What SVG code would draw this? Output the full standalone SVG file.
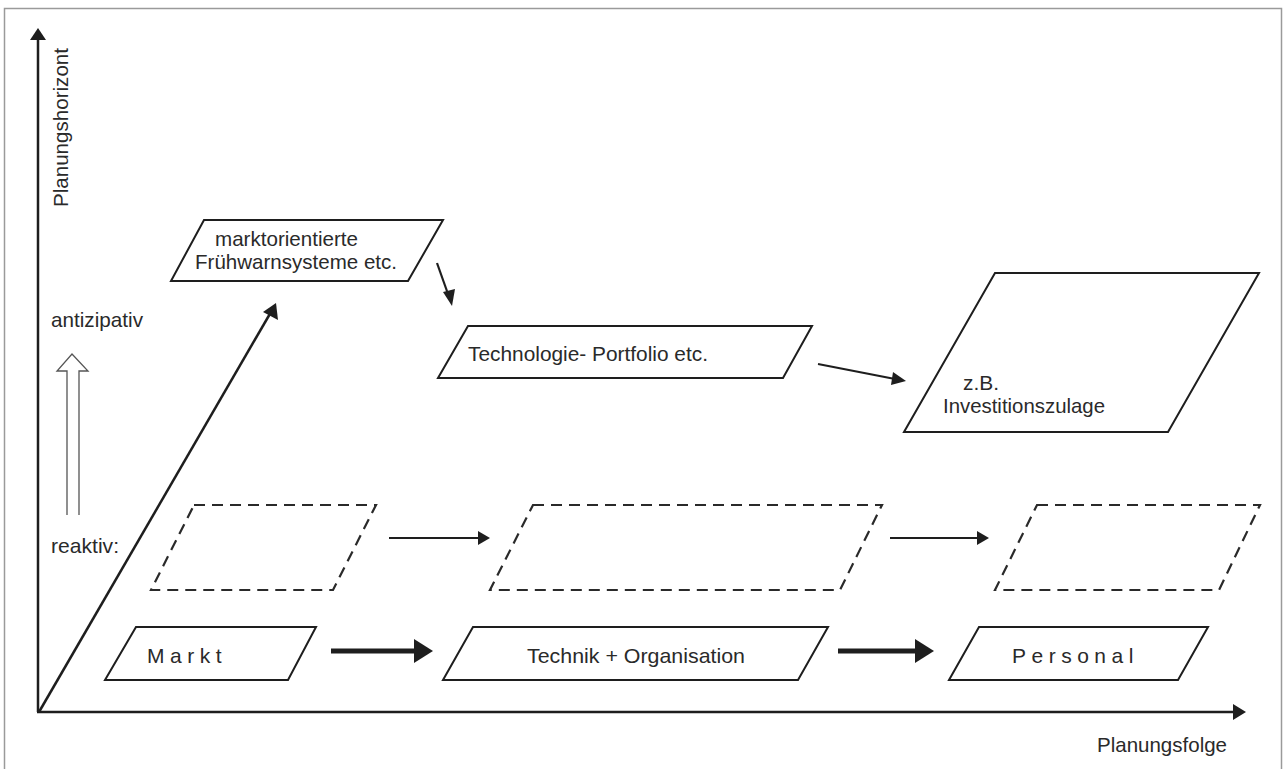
<svg xmlns="http://www.w3.org/2000/svg" width="1284" height="769" viewBox="0 0 1284 769">
<style>
  .frame{fill:none;stroke:#9a9a9a;stroke-width:1.5}
  .axis{fill:none;stroke:#1e1e1e;stroke-width:2.5}
  .node{fill:#fff;stroke:#1e1e1e;stroke-width:2}
  .dash{fill:none;stroke:#2a2a2a;stroke-width:2.2;stroke-dasharray:11 7}
  .lbl{font-family:"Liberation Sans",Arial,sans-serif;font-size:21px;fill:#2a2a2a}
  .sp{letter-spacing:5.5px}
  .thin{fill:none;stroke:#1e1e1e;stroke-width:2.2}
  .thick{fill:none;stroke:#1e1e1e;stroke-width:5}
  .head{fill:#1e1e1e;stroke:none}
</style>
<rect width="1284" height="769" fill="#fff"/>
<rect class="frame" x="4.5" y="8.5" width="1277" height="780"/>

<g id="axes">
  <line class="axis" x1="38" y1="712" x2="38" y2="36"/>
  <polygon class="head" points="38,28 30,40 46,40"/>
  <line class="axis" x1="37" y1="712" x2="1236" y2="712"/>
  <polygon class="head" points="1246,712 1233,704 1233,720"/>
  <line class="axis" x1="39" y1="712" x2="271" y2="312"/>
  <polygon class="head" points="276,303 278,320 263,312"/>
  <text class="lbl" transform="translate(68,207) rotate(-90)" textLength="159" lengthAdjust="spacingAndGlyphs">Planungshorizont</text>
  <text class="lbl" x="1097" y="752" textLength="130" lengthAdjust="spacingAndGlyphs">Planungsfolge</text>
</g>

<g id="levels">
  <text class="lbl" x="51" y="327" textLength="92" lengthAdjust="spacingAndGlyphs">antizipativ</text>
  <text class="lbl" x="51" y="553" textLength="68" lengthAdjust="spacingAndGlyphs">reaktiv:</text>
  <path d="M67,515 V371 H57 L72,354 L88,371 H79 V515" fill="#fff" stroke="#555" stroke-width="1.3"/>
</g>

<g id="node-fruehwarn">
  <polygon class="node" points="204,220 443,220 408,281 171,281"/>
  <text class="lbl" x="215" y="246" textLength="143" lengthAdjust="spacingAndGlyphs">marktorientierte</text>
  <text class="lbl" x="195" y="269" textLength="202" lengthAdjust="spacingAndGlyphs">Frühwarnsysteme etc.</text>
</g>

<g id="node-portfolio">
  <polygon class="node" points="468,326 812,326 783,378 438,378"/>
  <text class="lbl" x="468" y="361" textLength="240" lengthAdjust="spacingAndGlyphs">Technologie- Portfolio etc.</text>
</g>

<g id="node-zulage">
  <polygon class="node" points="995,273 1259,273 1168,432 904,432"/>
  <text class="lbl" x="963" y="390" textLength="36" lengthAdjust="spacingAndGlyphs">z.B.</text>
  <text class="lbl" x="943" y="413" textLength="162" lengthAdjust="spacingAndGlyphs">Investitionszulage</text>
</g>

<g id="node-dash1"><polygon class="dash" points="194,505 376,505 333,590 151,590"/></g>
<g id="node-dash2"><polygon class="dash" points="533,505 882,505 840,590 490,590"/></g>
<g id="node-dash3"><polygon class="dash" points="1037,505 1260,505 1219,590 995,590"/></g>

<g id="node-markt">
  <polygon class="node" points="136,627 316,627 288,680 105,680"/>
  <text class="lbl sp" x="147" y="663">Markt</text>
</g>

<g id="node-technik">
  <polygon class="node" points="473,627 828,627 798,680 443,680"/>
  <text class="lbl" x="527" y="663" textLength="218" lengthAdjust="spacingAndGlyphs">Technik +  Organisation</text>
</g>

<g id="node-personal">
  <polygon class="node" points="979,627 1208,627 1178,680 949,680"/>
  <text class="lbl sp" x="1012" y="663">Personal</text>
</g>

<g id="connectors">
  <line class="thin" x1="437" y1="263" x2="448" y2="294"/>
  <polygon class="head" points="452,306 443,292 455,289"/>
  <line class="thin" x1="818" y1="364" x2="895" y2="379"/>
  <polygon class="head" points="906,381 893,372 891,385"/>
  <line class="thin" x1="389" y1="538" x2="480" y2="538"/>
  <polygon class="head" points="490,538 478,531 478,545"/>
  <line class="thin" x1="890" y1="538" x2="979" y2="538"/>
  <polygon class="head" points="989,538 977,531 977,545"/>
  <line class="thick" x1="331" y1="651" x2="416" y2="651"/>
  <polygon class="head" points="433,651 414,639 414,663"/>
  <line class="thick" x1="838" y1="651" x2="917" y2="651"/>
  <polygon class="head" points="934,651 915,639 915,663"/>
</g>
</svg>
